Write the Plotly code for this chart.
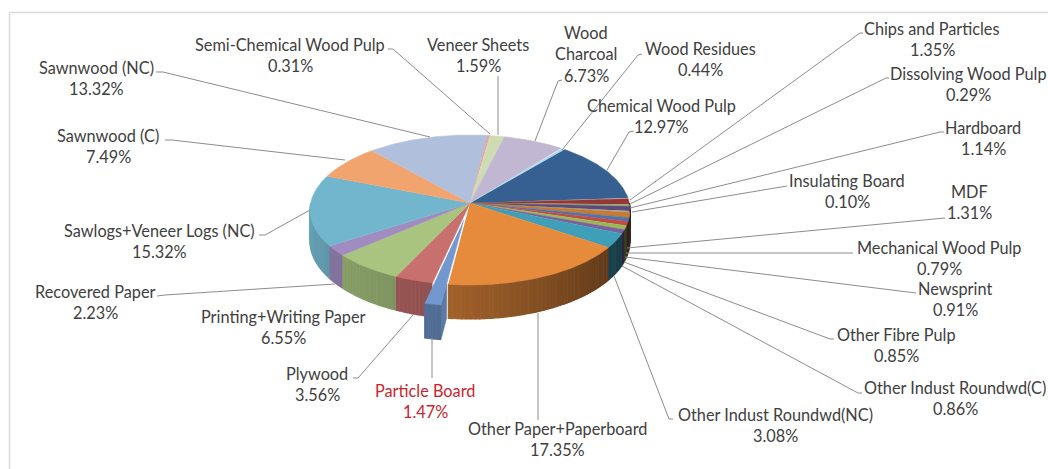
import numpy as np
import plotly.graph_objects as go

categories = ["Chemical Wood Pulp", "Chips and Particles", "Dissolving Wood Pulp", "Hardboard",
              "Insulating Board", "MDF", "Mechanical Wood Pulp", "Newsprint", "Other Fibre Pulp",
              "Other Indust Roundwd(C)", "Other Indust Roundwd(NC)", "Other Paper+Paperboard",
              "Particle Board", "Plywood", "Printing+Writing Paper", "Recovered Paper",
              "Sawlogs+Veneer Logs (NC)", "Sawnwood (C)", "Sawnwood (NC)", "Semi-Chemical Wood Pulp",
              "Veneer Sheets", "Wood Charcoal", "Wood Residues"]
values = [12.97, 1.35, 0.29, 1.14, 0.10, 1.31, 0.79, 0.91, 0.85, 0.86, 3.08, 17.35,
          1.47, 3.56, 6.55, 2.23, 15.32, 7.49, 13.32, 0.31, 1.59, 6.73, 0.44]
colors = ["#376092", "#953735", "#76923c", "#5f497a", "#31859c", "#c87a2f", "#4f74ad", "#be4b48",
          "#98b954", "#7d60a0", "#3f9fb8", "#e68a3c", "#7298cf", "#c8706e", "#a8c47f", "#a08cc0",
          "#72b6cd", "#f2a46f", "#b0bfdb", "#e0a8a7", "#cfdcb3", "#c1b7d2", "#a8d8e8"]

# label layout: category -> (centre x, first line y)
label_pos = {
    "Chemical Wood Pulp": (661, 105), "Chips and Particles": (932, 28), "Dissolving Wood Pulp": (968, 73),
    "Hardboard": (983, 127), "Insulating Board": (847, 180), "MDF": (969, 191),
    "Mechanical Wood Pulp": (939, 247), "Newsprint": (955, 288), "Other Fibre Pulp": (896, 334),
    "Other Indust Roundwd(C)": (955, 387), "Other Indust Roundwd(NC)": (775, 414),
    "Other Paper+Paperboard": (557, 428), "Particle Board": (425, 390), "Plywood": (317, 373),
    "Printing+Writing Paper": (283, 316), "Recovered Paper": (95, 291),
    "Sawlogs+Veneer Logs (NC)": (159, 230), "Sawnwood (C)": (108, 135), "Sawnwood (NC)": (96, 67),
    "Semi-Chemical Wood Pulp": (290, 44), "Veneer Sheets": (478, 44), "Wood Charcoal": (586, 32),
    "Wood Residues": (700, 48),
}
leaders = [
    [(388, 49), (393, 49), (490, 134)], [(156, 72), (163, 72), (430, 137)], [(165, 140), (172, 140), (345, 160)],
    [(259, 235), (265, 235), (310, 210)], [(157, 296), (165, 295), (335, 284)], [(353, 378), (358, 378), (413, 315)],
    [(432, 338), (432, 378)], [(538, 313), (538, 420)], [(614, 276), (669, 419), (673, 419)],
    [(622, 266), (858, 393), (862, 393)], [(624, 262), (830, 339), (834, 339)], [(625, 257), (916, 293)],
    [(626, 253), (853, 253)], [(627, 248), (945, 218)], [(632, 212), (783, 186), (787, 186)],
    [(630, 208), (940, 132), (944, 132)], [(630, 204), (886, 78), (889, 78)], [(630, 200), (860, 33), (863, 33)],
    [(607, 170), (629, 132), (634, 131)], [(535, 141), (558, 81), (562, 80)], [(562, 150), (638, 55), (642, 54)],
    [(498, 135), (498, 76)],
]
CX, CY, RX, RY, K, DEPTH, START = 470, 203, 159.3, 74.35, 0.0934, 30.8, 39.5
PULL = 0.225
EXPLODED = "Particle Board"
SHADE_ANGLES = [90, 125, 190, 270]
SHADE_FACTORS = [0.30, 0.42, 0.72, 0.90]
STRIP_DEG = 1.5


def project(u, v, drop=False):
    w = 1 - K * np.asarray(v)
    return CX + RX * np.asarray(u) / w, CY + RY * np.asarray(v) / w + (DEPTH / w if drop else 0)


def shade(hex_color, f):
    rgb = [int(hex_color[i:i + 2], 16) for i in (1, 3, 5)]
    return "rgb(%d,%d,%d)" % tuple(min(255, round(c * f)) for c in rgb)


fig = go.Figure()


def poly(xs, ys, color, lw=0.6):
    fig.add_trace(go.Scatter(x=list(xs), y=list(ys), mode="lines", fill="toself", fillcolor=color,
                             line=dict(color=color, width=lw), hoverinfo="skip", showlegend=False))


def wall(t0, t1, color, off=(0, 0)):
    n = max(1, int(np.ceil((t1 - t0) / STRIP_DEG)))
    edges = np.linspace(t0, t1, n + 1)
    for a, b in zip(edges[:-1], edges[1:]):
        th = np.radians(np.linspace(a, b, 3))
        u, v = np.sin(th) + off[0], -np.cos(th) + off[1]
        x1, y1 = project(u, v)
        x2, y2 = project(u, v, True)
        f = np.interp((a + b) / 2, SHADE_ANGLES, SHADE_FACTORS)
        poly(np.r_[x1, x2[::-1]], np.r_[y1, y2[::-1]], shade(color, f), lw=1.2)


def top(t0, t1, color, off=(0, 0)):
    th = np.radians(np.linspace(t0, t1, max(3, int((t1 - t0) * 2) + 2)))
    u = np.r_[0, np.sin(th)] + off[0]
    v = np.r_[0, -np.cos(th)] + off[1]
    x, y = project(u, v)
    poly(x, y, color)


total = sum(values)
cum = START + np.r_[0, np.cumsum(values)] / total * 360
slices = list(zip(categories, colors, cum[:-1], cum[1:]))

for name, col, a, b in slices:
    if name != EXPLODED:
        lo, hi = max(a, 90), min(b, 270)
        if hi > lo:
            wall(lo, hi, col)
for name, col, a, b in slices:
    if name != EXPLODED:
        top(a, b, col)
for name, col, a, b in slices:
    if name == EXPLODED:
        m = np.radians((a + b) / 2)
        off = (PULL * np.sin(m), -PULL * np.cos(m))
        # radial cut face: only the part standing clear of the main pie shows
        r = np.array([np.sin(np.radians(a)), -np.cos(np.radians(a))])
        o = np.array(off)
        bq, cq = r @ o, o @ o - 1
        t0 = -bq + np.sqrt(bq * bq - cq)
        ts = np.array([1, t0])
        u, v = ts * r[0] + o[0], ts * r[1] + o[1]
        x1, y1 = project(u, v)
        x2, y2 = project(u, v, True)
        poly(np.r_[x1, x2[::-1]], np.r_[y1, y2[::-1]], shade(col, 0.80))
        wall(a, b, col, off)
        top(a, b, col, off)

lx, ly = [], []
for seg in leaders:
    for p in seg:
        lx.append(p[0])
        ly.append(p[1])
    lx.append(None)
    ly.append(None)
fig.add_trace(go.Scatter(x=lx, y=ly, mode="lines", line=dict(color="#8c8c8c", width=1),
                         hoverinfo="skip", showlegend=False))

annotations = []
LINE_GAP = 21.3
for name, val in zip(categories, values):
    cx, y0 = label_pos[name]
    lines = ["Wood", "Charcoal"] if name == "Wood Charcoal" else [name]
    lines = lines + [f"{val:.2f}%"]
    for i, t in enumerate(lines):
        annotations.append(dict(x=cx, y=y0 + i * LINE_GAP + 0.5, text=t, showarrow=False, xanchor="center",
                                yanchor="middle", font=dict(family="Lato, Open Sans, sans-serif", size=16.3,
                                color="#c8262c" if name == EXPLODED else "#404040")))

fig.update_layout(
    width=1048, height=469, margin=dict(l=0, r=0, t=0, b=0), paper_bgcolor="white", plot_bgcolor="white",
    xaxis=dict(range=[0, 1048], visible=False, fixedrange=True),
    yaxis=dict(range=[469, 0], visible=False, fixedrange=True),
    annotations=annotations,
    shapes=[dict(type="line", x0=9.5, x1=9.5, y0=12.5, y1=469, line=dict(color="#d9d9d9", width=1.5)),
            dict(type="line", x0=9.5, x1=1048, y0=12.5, y1=12.5, line=dict(color="#d9d9d9", width=1.5))],
    showlegend=False,
)
fig.write_html("out.html", post_script="document.body.style.margin='0';",
               config=dict(displayModeBar=False))
